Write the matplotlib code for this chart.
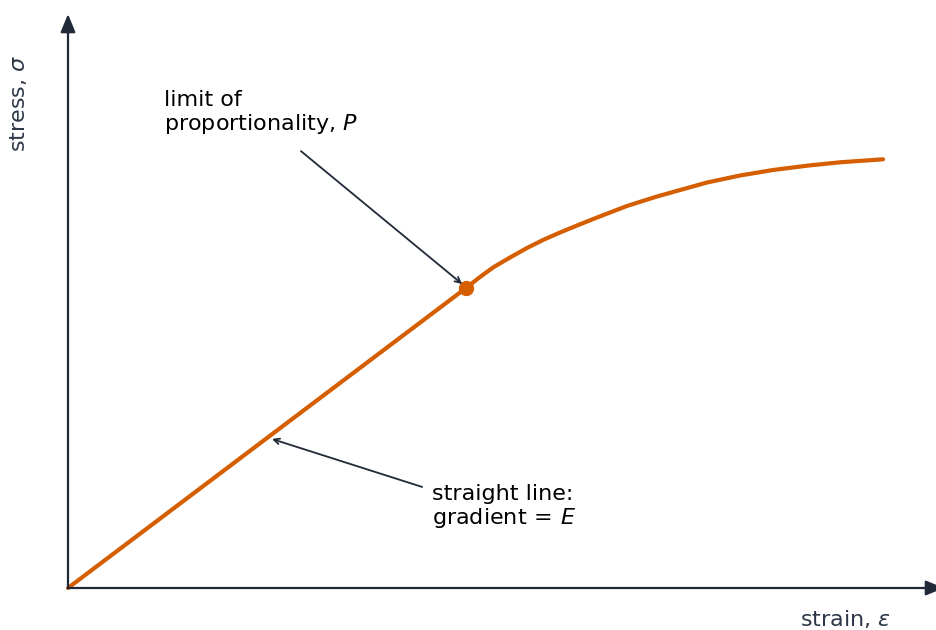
import numpy as np
import matplotlib.pyplot as plt

# stress-strain curve, points (strain, stress scaled 0..1)
linear_strain = [0.0, 0.488]
linear_stress = [0.0, 0.698]

curve_strain = [0.488, 0.5049, 0.5208, 0.5417, 0.5625, 0.5821, 0.6029, 0.6238,
                0.6483, 0.6850, 0.7218, 0.7414, 0.7831, 0.8235, 0.8640, 0.9056,
                0.9461, 0.9988]
curve_stress = [0.698, 0.7233, 0.7453, 0.7686, 0.7907, 0.8093, 0.8267, 0.8430,
                0.8616, 0.8884, 0.9105, 0.9209, 0.9430, 0.9593, 0.9721, 0.9821,
                0.9900, 0.9970]

prop_limit = (0.488, 0.698)

ORANGE = "#d55e00"
NAVY = "#1f2937"
LABEL_GREY = "#2d3748"

fig = plt.figure(figsize=(9.36, 6.3), dpi=100)
ax = fig.add_axes([0, 0, 1, 1])
# pixel-ish mapping: origin at (68, 588), strain 1 = 816 px, stress 1 = 430 px
ax.set_xlim(-68 / 816, (936 - 68) / 816)
ax.set_ylim(-42 / 430, 588 / 430)
ax.axis("off")

# axes with arrow heads
ax.annotate("", xy=(0, (588 - 14) / 430), xytext=(0, 0),
            arrowprops=dict(arrowstyle="-|>,head_length=1.1,head_width=0.45",
                            color=NAVY, lw=1.6, shrinkA=0, shrinkB=0),
            annotation_clip=False)
ax.annotate("", xy=((944 - 68) / 816, 0), xytext=(0, 0),
            arrowprops=dict(arrowstyle="-|>,head_length=1.1,head_width=0.45",
                            color=NAVY, lw=1.6, shrinkA=0, shrinkB=0),
            annotation_clip=False)

# the curve
ax.plot(linear_strain, linear_stress, color=ORANGE, lw=3, solid_capstyle="round")
ax.plot(curve_strain, curve_stress, color=ORANGE, lw=3,
        solid_capstyle="round", solid_joinstyle="round")
ax.plot(*prop_limit, "o", color=ORANGE, ms=10)

# axis labels
ax.text((891 - 68) / 816, (588 - 626) / 430, r"strain, $\varepsilon$",
        ha="right", va="baseline", fontsize=16, color=LABEL_GREY)
ax.text((19 - 68) / 816, (588 - 103) / 430, r"stress, $\sigma$",
        ha="center", va="center", rotation=90, fontsize=16, color=LABEL_GREY)

# annotations
ax.text((164 - 68) / 816, (588 - 90) / 430, "limit of\nproportionality, $P$",
        ha="left", va="top", fontsize=16, color="black", linespacing=1.1)
ax.annotate("", xy=(0.483, 0.707), xytext=(0.2855, 1.016),
            arrowprops=dict(arrowstyle="->", color=NAVY, lw=1.3,
                            shrinkA=0, shrinkB=0))

ax.text((432 - 68) / 816, (588 - 484) / 430, "straight line:\ngradient$\\,=\\,E$",
        ha="left", va="top", fontsize=16, color="black", linespacing=1.1)
ax.annotate("", xy=(0.25, 0.3465), xytext=(0.434, 0.235),
            arrowprops=dict(arrowstyle="->", color=NAVY, lw=1.3,
                            shrinkA=0, shrinkB=0))

fig.savefig("out.png", dpi=100)
